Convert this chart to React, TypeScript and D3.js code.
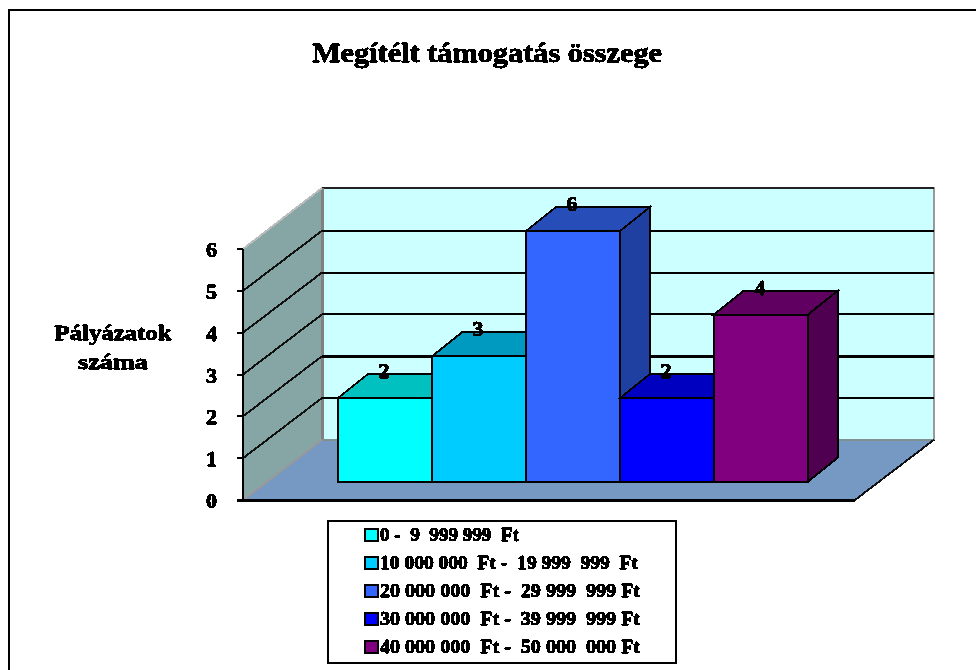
import React from "react";
import * as d3 from "d3";

const categories = [
  "0 -  9  999 999  Ft",
  "10 000 000  Ft -  19 999  999  Ft",
  "20 000 000  Ft -  29 999  999 Ft",
  "30 000 000  Ft -  39 999  999 Ft",
  "40 000 000  Ft -  50 000  000 Ft",
];
const values = [2, 3, 6, 2, 4];
const frontColors = ["#00ffff", "#00ccff", "#3366ff", "#0000ff", "#800080"];
const topColors = ["#00c0c0", "#0099c0", "#264db8", "#0000c0", "#600060"];
const sideColors = ["#008080", "#006680", "#1f40a0", "#000080", "#500050"];
const yTicks = [0, 1, 2, 3, 4, 5, 6];
const titleText = "Megítélt támogatás összege";
const yTitle = ["Pályázatok", "száma"];
const yTitleWidths = [117, 70];
const legendWidths = [139, 258, 260, 260, 260];

const FONT = "'Liberation Serif', 'Times New Roman', serif";

export default function App() {
  const frontY = d3.scaleLinear().domain([0, 6]).range([500, 249]);
  const backY = d3.scaleLinear().domain([0, 6]).range([439.75, 189]);
  const barY = d3.scaleLinear().domain([0, 6]).range([481.5, 231]);
  const barX = d3.scaleBand<number>().domain(d3.range(values.length)).range([338, 808]);
  const dx = 30;
  const dy = 24;
  const line = d3.line();
  const closed = (pts: [number, number][]) => line(pts) + "Z";
  const bw = barX.bandwidth();
  const heavy = { stroke: "#000", strokeWidth: 0.5, filter: "url(#hard)" };

  return (
    <svg width={976} height={670} style={{ position: "absolute", left: 0, top: 0, background: "#fff" }} fontFamily={FONT}>
      <defs>
        <filter id="hard" x="-5%" y="-20%" width="110%" height="140%" colorInterpolationFilters="sRGB">
          <feComponentTransfer>
            <feFuncA type="discrete" tableValues="0 1 1 1" />
          </feComponentTransfer>
        </filter>
      </defs>
      {/* frame */}
      <path d="M9 670V10H976" fill="none" stroke="#000" strokeWidth={2} shapeRendering="crispEdges" />
      <text x={487} y={62} textAnchor="middle" fontSize={28} fontWeight="bold" textLength={350} lengthAdjust="spacingAndGlyphs" {...heavy}>{titleText}</text>

      {/* y title */}
      <g fontSize={21} fontWeight="bold" textAnchor="middle" {...heavy}>
        {yTitle.map((t, i) => (
          <text key={t} x={113} y={340 + i * 29} textLength={yTitleWidths[i]} lengthAdjust="spacingAndGlyphs">{t}</text>
        ))}
      </g>

      {/* back wall */}
      <rect x={322} y={188} width={612} height={backY(0) - 188} fill="#ccffff" stroke="#999" strokeWidth={2} shapeRendering="crispEdges" />
      <path d="M322 188H934" stroke="#222" strokeWidth={2} shapeRendering="crispEdges" />
      {/* side wall */}
      <path d={closed([[243, frontY(6)], [322, 188], [322, backY(0)], [243, frontY(0)]])} fill="#86a6a6" />
      <path d={`M322 188V${backY(0)}`} stroke="#808080" strokeWidth={3} shapeRendering="crispEdges" />
      {/* floor */}
      <path d={closed([[243, frontY(0)], [322, backY(0)], [934, backY(0)], [855, frontY(0)]])} fill="#7599c2" />
      <path d={`M322 ${backY(0)}H934`} stroke="#809090" strokeWidth={2} shapeRendering="crispEdges" />
      <path d={`M855 ${frontY(0)}L934 ${backY(0)}`} stroke="#111" strokeWidth={2} shapeRendering="crispEdges" />

      {/* grid */}
      {yTicks.slice(1, 6).map((t) => (
        <path key={t} d={`M322 ${backY(t)}H934`} fill="none" stroke="#000" strokeWidth={t === 2 ? 3 : 2} shapeRendering="crispEdges" />
      ))}
      {yTicks.slice(1, 6).map((t) => (
        <path key={t} d={`M243 ${frontY(t)}L322 ${backY(t)}`} stroke="#111" strokeWidth={2} fill="none" shapeRendering="crispEdges" />
      ))}
      <path d={`M243 ${frontY(6)}L322 188`} stroke="#bbb" strokeWidth={2} fill="none" shapeRendering="crispEdges" />
      <path d={`M243 ${frontY(0)}L322 ${backY(0)}`} stroke="#999" strokeWidth={2} fill="none" shapeRendering="crispEdges" />

      {/* axes */}
      <path d={`M243 ${frontY(6)}V${frontY(0)}`} stroke="#000" strokeWidth={2} shapeRendering="crispEdges" />
      <path d={`M237 ${frontY(0)}H855`} stroke="#000" strokeWidth={3} shapeRendering="crispEdges" />
      {yTicks.map((t) => (
        <g key={t}>
          <path d={`M237 ${frontY(t)}H243`} stroke="#000" strokeWidth={2} shapeRendering="crispEdges" />
          <text x={217} y={frontY(t) + 8} textAnchor="end" fontSize={22} fontWeight="bold" {...heavy}>{t}</text>
        </g>
      ))}

      {/* bars */}
      {values.map((v, i) => {
        const x0 = barX(i)!;
        const x1 = x0 + bw;
        const yT = barY(v);
        const yB = barY(0);
        return (
          <g key={i} stroke="#000" strokeWidth={2} strokeLinejoin="miter">
            <path d={closed([[x1, yT], [x1 + dx, yT - dy], [x1 + dx, yB - dy], [x1, yB]])} fill={sideColors[i]} shapeRendering="crispEdges" />
            <path d={closed([[x0, yT], [x0 + dx, yT - dy], [x1 + dx, yT - dy], [x1, yT]])} fill={topColors[i]} shapeRendering="crispEdges" />
            <rect x={x0} y={yT} width={bw} height={yB - yT} fill={frontColors[i]} shapeRendering="crispEdges" />
          </g>
        );
      })}
      {/* value labels */}
      {values.map((v, i) => (
        <text key={i} x={barX(i)! + bw / 2 - 1} y={barY(v) - 20} textAnchor="middle" fontSize={22} fontWeight="bold" {...heavy}>{v}</text>
      ))}

      {/* legend */}
      <rect x={328} y={521} width={348} height={142} fill="#fff" stroke="#000" strokeWidth={2} shapeRendering="crispEdges" />
      {categories.map((c, i) => {
        const y = 541 + i * 28;
        return (
          <g key={c}>
            <rect x={365} y={y - 12} width={13} height={12} fill={frontColors[i]} stroke="#000" strokeWidth={1.5} shapeRendering="crispEdges" />
            <text x={380} y={y} fontSize={19} fontWeight="bold" textLength={legendWidths[i]} lengthAdjust="spacingAndGlyphs" {...heavy} style={{ whiteSpace: "pre" }}>{c}</text>
          </g>
        );
      })}
    </svg>
  );
}
